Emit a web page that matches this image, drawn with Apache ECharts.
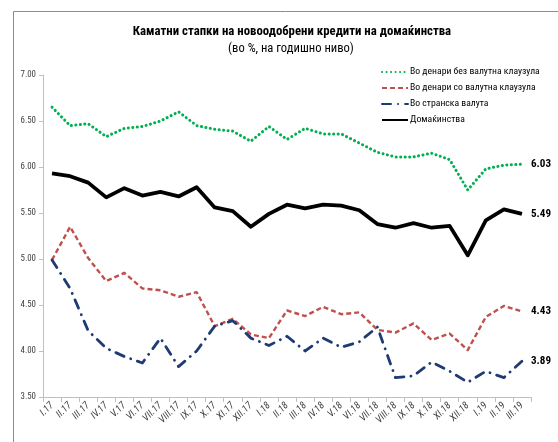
<!DOCTYPE html>
<html>
<head>
<meta charset="utf-8">
<script src="https://cdn.jsdelivr.net/npm/echarts@6/dist/echarts.min.js"></script>
<style>
html,body{margin:0;padding:0;background:#fff;}
#c{width:558px;height:442px;}
</style>
</head>
<body>
<div id="c"></div>
<script>
var categories = ['I.17','II.17','III.17','IV.17','V.17','VI.17','VII.17','VIII.17','IX.17','X.17','XI.17','XII.17',
  'I.18','II.18','III.18','IV.18','V.18','VI.18','VII.18','VIII.18','IX.18','X.18','XI.18','XII.18',
  'I.19','II.19','III.19'];
var denariBez = [6.65,6.45,6.47,6.33,6.42,6.44,6.50,6.60,6.45,6.41,6.39,6.28,6.44,6.30,6.42,6.36,6.36,6.26,6.16,6.11,6.11,6.15,6.08,5.75,5.98,6.02,6.03];
var denariSo = [4.99,5.35,5.01,4.76,4.85,4.68,4.66,4.59,4.64,4.27,4.35,4.18,4.14,4.44,4.38,4.48,4.40,4.42,4.23,4.20,4.30,4.12,4.19,4.01,4.37,4.49,4.43];
var strankaValuta = [4.99,4.68,4.22,4.03,3.94,3.87,4.14,3.83,4.00,4.27,4.33,4.14,4.06,4.16,4.00,4.14,4.04,4.10,4.26,3.71,3.73,3.88,3.78,3.66,3.78,3.71,3.89];
var domakinstva = [5.93,5.90,5.83,5.67,5.77,5.69,5.73,5.68,5.78,5.56,5.52,5.35,5.49,5.59,5.55,5.59,5.58,5.53,5.38,5.34,5.39,5.34,5.36,5.04,5.42,5.54,5.49];
var seriesNames = ['Во денари без валутна клаузула','Во денари со валутна клаузула','Во странска валута','Домаќинства'];
var titleText = 'Каматни стапки на новоодобрени кредити на домаќинства';
var subtitleText = '(во %, на годишно ниво)';

var FONT = "'Roboto Condensed','Liberation Sans',sans-serif";
var mctx = document.createElement('canvas').getContext('2d');
function fit(text, weight, target){
  mctx.font = weight + ' 20px ' + FONT;
  var w = mctx.measureText(text).width;
  return Math.round(20 * target / w * 10) / 10;
}
var titleSize = fit(titleText, 'bold', 318);
var subSize = fit(subtitleText, 'normal', 126);
var legSize = fit(seriesNames[0], 'normal', 130);
var endSize = fit('6.03', 'bold', 20);
var ySize = fit('7.00', 'normal', 15.5);
var xSize = ySize + 1.2;

var chart = echarts.init(document.getElementById('c'), null, {renderer:'canvas'});

function endLab(){
  return {show:true, formatter:function(p){return p.value.toFixed(2);}, color:'#000', fontWeight:'bold',
    fontSize:endSize, fontFamily:FONT, distance:9};
}
function mk(name, data, color, width, type, cap, z){
  return {name:name, type:'line', data:data, symbol:'none', z:z,
    lineStyle:{color:color, width:width, type:type, cap:cap, join:'round'},
    itemStyle:{color:color},
    endLabel:endLab(), emphasis:{disabled:true}, animation:false};
}

chart.setOption({
  animation:false,
  backgroundColor:'#fff',
  title:[
    {text:titleText, left:287, textAlign:'center', top:20,
      textStyle:{fontFamily:FONT, fontWeight:'bold', fontSize:titleSize, color:'#000'}},
    {text:subtitleText, left:286, textAlign:'center', top:37,
      textStyle:{fontFamily:FONT, fontWeight:'normal', fontSize:subSize, color:'#000'}}
  ],
  graphic:[{type:'polyline', shape:{points:[[13.5,442],[13.5,11.5],[558,11.5]]},
    style:{stroke:'#8c8c8c', lineWidth:1, fill:null}, silent:true}],
  legend:{orient:'vertical', left:376, top:62, itemWidth:26, itemHeight:12, itemGap:6,
    itemStyle:{opacity:0},
    textStyle:{fontFamily:FONT, fontSize:legSize, color:'#000', padding:[0,0,0,-3]},
    data:seriesNames},
  grid:{left:43, right:27, top:75, bottom:45},
  xAxis:{type:'category', data:categories, boundaryGap:true,
    axisLine:{lineStyle:{color:'#bfbfbf'}},
    axisTick:{show:true, alignWithLabel:false, length:5, lineStyle:{color:'#bfbfbf'}},
    axisLabel:{rotate:45, interval:0, fontFamily:FONT, fontSize:xSize, color:'#404040', fontStyle:'italic', margin:7}},
  yAxis:{type:'value', min:3.5, max:7, interval:0.5,
    axisLine:{show:true, lineStyle:{color:'#bfbfbf'}},
    axisTick:{show:true, length:4, lineStyle:{color:'#bfbfbf'}},
    splitLine:{show:false},
    axisLabel:{formatter:function(v){return v.toFixed(2);}, fontFamily:FONT, fontSize:ySize, color:'#404040', margin:7}},
  series:[
    mk(seriesNames[0], denariBez, '#00b050', 3, [0.1,4.4], 'round', 3),
    mk(seriesNames[1], denariSo, '#c0504d', 2.4, [5,3], 'butt', 4),
    mk(seriesNames[2], strankaValuta, '#1f3b73', 2.8, [9,7,0.1,7], 'round', 5),
    mk(seriesNames[3], domakinstva, '#000000', 3.8, 'solid', 'butt', 6)
  ]
});
</script>
</body>
</html>
